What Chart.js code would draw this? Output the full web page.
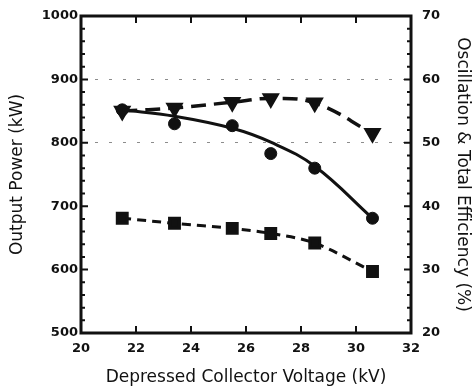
<!DOCTYPE html>
<html>
<head>
<meta charset="utf-8">
<script src="https://cdn.jsdelivr.net/npm/chart.js@4/dist/chart.umd.min.js"></script>
<style>
  html, body { margin: 0; padding: 0; background: #fff; }
  #wrap { width: 472px; height: 386px; position: relative; }
</style>
</head>
<body>
<div id="wrap"><canvas id="chart"></canvas></div>
<script>
// collector voltage (kV)
const voltage = [21.5, 23.4, 25.5, 26.9, 28.5, 30.6];
// output power (kW), left axis - measured points
const outputPower = [852, 830, 827, 783, 760, 681];
// smooth fit through the power points
const powerFit = [852, 842, 823, 801, 763, 681];
// total efficiency (%), right axis
const totalEff = [55.0, 55.5, 56.4, 57.0, 56.3, 51.5];
// oscillation efficiency (%), right axis
const oscEff = [38.1, 37.3, 36.5, 35.7, 34.2, 29.7];

const xTicks = [20, 22, 24, 26, 28, 30, 32];
const leftTicks = [500, 600, 700, 800, 900, 1000];
const rightTicks = [20, 30, 40, 50, 60, 70];

const ink = "#111";
const font = { family: "DejaVu Sans", size: 13, weight: "bold" };
const titleFont = { family: "DejaVu Sans", size: 17, lineHeight: 1 };

function pts(ys) {
  return voltage.map((x, i) => ({ x, y: ys[i] }));
}

// inward tick marks on all four sides, placed through the chart's scales
const innerTicks = {
  id: "innerTicks",
  afterDatasetsDraw(chart) {
    const { ctx, chartArea: a, scales } = chart;
    ctx.save();
    ctx.strokeStyle = ink;
    ctx.lineWidth = 2;
    ctx.beginPath();
    for (let v = 20; v <= 32; v += 2) {
      const px = scales.x.getPixelForValue(v);
      ctx.moveTo(px, a.bottom); ctx.lineTo(px, a.bottom - 7);
      ctx.moveTo(px, a.top); ctx.lineTo(px, a.top + 7);
    }
    for (let v = 500; v <= 1000; v += 20) {
      const py = scales.y.getPixelForValue(v);
      const len = v % 100 === 0 ? 7 : 4;
      ctx.moveTo(a.left, py); ctx.lineTo(a.left + len, py);
    }
    for (let v = 20; v <= 70; v += 2) {
      const py = scales.y2.getPixelForValue(v);
      const len = v % 10 === 0 ? 7 : 4;
      ctx.moveTo(a.right, py); ctx.lineTo(a.right - len, py);
    }
    ctx.stroke();
    ctx.lineWidth = 3;
    ctx.strokeRect(a.left, a.top, a.right - a.left, a.bottom - a.top);
    ctx.restore();
  }
};

new Chart(document.getElementById("chart"), {
  type: "line",
  data: {
    datasets: [
      {
        label: "Output Power fit",
        data: pts(powerFit),
        yAxisID: "y",
        borderColor: ink,
        borderWidth: 3,
        pointRadius: 0,
        tension: 0.4
      },
      {
        label: "Output Power",
        data: pts(outputPower),
        yAxisID: "y",
        showLine: false,
        borderColor: ink,
        backgroundColor: ink,
        pointStyle: "circle",
        pointRadius: 6
      },
      {
        label: "Total Efficiency",
        data: pts(totalEff),
        yAxisID: "y2",
        borderColor: ink,
        backgroundColor: ink,
        borderWidth: 3.5,
        borderDash: [15, 8],
        pointStyle: "triangle",
        rotation: 180,
        pointRadius: 7,
        tension: 0.4
      },
      {
        label: "Oscillation Efficiency",
        data: pts(oscEff),
        yAxisID: "y2",
        borderColor: ink,
        backgroundColor: ink,
        borderWidth: 3,
        borderDash: [9, 6],
        pointStyle: "rect",
        pointRadius: 7,
        tension: 0.3
      }
    ]
  },
  options: {
    responsive: true,
    maintainAspectRatio: false,
    animation: false,
    layout: { padding: { top: 16, left: 0, right: 0, bottom: 0 } },
    plugins: { legend: { display: false }, tooltip: { enabled: false } },
    scales: {
      x: {
        type: "linear",
        min: 20, max: 32,
        afterBuildTicks: (s) => { s.ticks = xTicks.map((v) => ({ value: v })); },
        afterFit: (s) => { s.height = 53; },
        grid: { display: false },
        border: { display: false },
        ticks: { color: ink, font, padding: 0, callback: (v) => String(v) },
        title: { display: true, text: "Depressed Collector Voltage (kV)", color: ink, font: titleFont, padding: { top: 0, bottom: 0 } }
      },
      y: {
        position: "left",
        min: 500, max: 1000,
        afterBuildTicks: (s) => { s.ticks = leftTicks.map((v) => ({ value: v })); },
        afterFit: (s) => { s.width = 81; },
        grid: {
          drawTicks: false,
          color: (c) => (c.tick && (c.tick.value === 800 || c.tick.value === 900)) ? "rgba(0,0,0,0.45)" : "rgba(0,0,0,0)",
          lineWidth: 1
        },
        border: { display: false, dash: [3, 11] },
        ticks: { color: ink, font, padding: 3, callback: (v) => String(v) },
        title: { display: true, text: "Output Power (kW)", color: ink, font: titleFont, padding: { top: 9.5, bottom: 0 } }
      },
      y2: {
        position: "right",
        min: 20, max: 70,
        afterBuildTicks: (s) => { s.ticks = rightTicks.map((v) => ({ value: v })); },
        afterFit: (s) => { s.width = 61; },
        grid: { display: false },
        border: { display: false },
        ticks: { color: ink, font, padding: 3, callback: (v) => String(v) },
        title: { display: true, text: "Oscillation & Total Efficiency (%)", color: ink, font: titleFont, padding: { top: 1.5, bottom: 0 } }
      }
    }
  },
  plugins: [innerTicks]
});
</script>
</body>
</html>
